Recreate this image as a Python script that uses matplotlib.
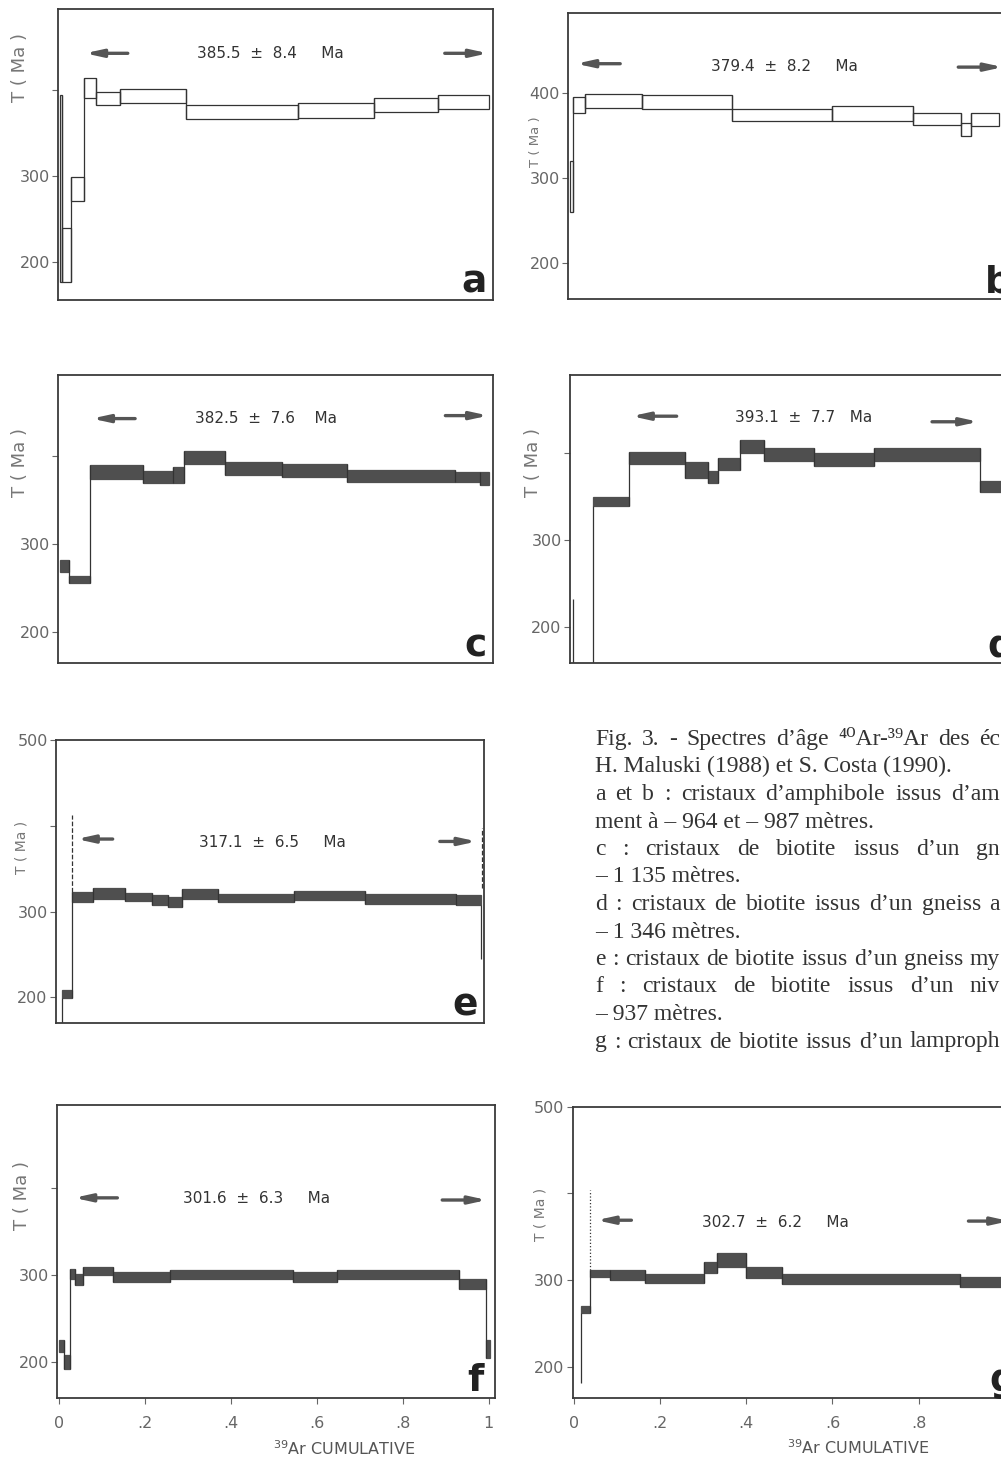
import matplotlib.pyplot as plt
from matplotlib.patches import Rectangle

W, H = 1001, 1457
fig = plt.figure(figsize=(W / 100, H / 100), dpi=100)

LINE = '#333333'
FILL = '#4f4f4f'

# --- data (cumulative 39Ar fraction edges, age ranges in Ma) ---
a_edges = [0, .005, .026, .057, .086, .141, .295, .555, .734, .883, 1.0]
a_lo = [177, 177, 271, 391, 383, 385, 366, 368, 375, 378]
a_hi = [394, 240, 299, 414, 398, 401, 383, 385, 391, 394]
a_age = "385.5  ±  8.4     Ma"

b_edges = [0, .009, .035, .168, .378, .611, .801, .913, .936, 1.0]
b_lo = [260, 376, 382, 381, 367, 367, 362, 349, 361]
b_hi = [320, 395, 398, 397, 381, 384, 376, 364, 376]
b_age = "379.4  ±  8.2     Ma"

c_edges = [0, .021, .071, .195, .265, .289, .386, .518, .669, .922, .980, 1.0]
c_lo = [268, 255, 374, 369, 369, 391, 378, 376, 370, 370, 367]
c_hi = [281, 263, 390, 383, 387, 405, 393, 391, 384, 382, 382]
c_age = "382.5  ±  7.6    Ma"

d_edges = [.051, .134, .265, .317, .342, .393, .449, .564, .705, .951, 1.0]
d_lo = [338.5, 386.5, 371, 364.5, 380, 400, 390.5, 384, 390.5, 355]
d_hi = [349, 401, 389, 379, 394, 414, 405, 399, 405, 367]
d_age = "393.1  ±  7.7   Ma"

e_edges = [.012, .035, .084, .16, .223, .262, .293, .38, .558, .725, .94, .998]
e_lo = [199, 311, 315, 312, 308, 305, 315, 311, 314, 309, 308]
e_hi = [208, 323, 328, 322, 319.5, 317.5, 326, 321, 324.5, 320, 319]
e_age = "317.1  ±  6.5     Ma"

f_edges = [0, .011, .024, .036, .054, .125, .258, .545, .646, .93, .993, 1.003]
f_lo = [211.5, 192, 295, 288.5, 300, 292, 295, 292, 295, 283.5, 204]
f_hi = [225, 208, 306.5, 301, 309.5, 304, 306, 303, 306, 295.5, 225]
f_age = "301.6  ±  6.3     Ma"

g_edges = [.018, .038, .085, .166, .302, .333, .4, .482, .896, 1.0]
g_lo = [261.5, 304, 300.5, 296, 308.5, 315.5, 302, 295.5, 292.5]
g_hi = [270, 312, 311.5, 307.5, 321, 331, 314.5, 307.5, 304]
g_age = "302.7  ±  6.2     Ma"

# extra vertical traces: (x, y0, y1, style)
d_lines = [(0.003, 150, 232, '-'), (0.051, 150, 338.5, '-')]
e_lines = [(0.012, 160, 199, '-'), (0.035, 323, 413, '--'),
           (0.998, 245, 308, '-'), (1.0, 327, 397, '--')]
g_lines = [(0.018, 181, 261.5, '-'), (0.038, 312, 404, ':')]

xtick_vals = [0, .2, .4, .6, .8, 1]
xtick_txt = ['0', '.2', '.4', '.6', '.8', '1']

# caption lines; True = justified line running off the right edge
caption = [
    ("Fig. 3. - Spectres d’âge ⁴⁰Ar-³⁹Ar des éc", True),
    ("H. Maluski (1988) et S. Costa (1990).", False),
    ("a et b : cristaux d’amphibole issus d’am", True),
    ("ment à – 964 et – 987 mètres.", False),
    ("c : cristaux de biotite issus d’un gn", True),
    ("– 1 135 mètres.", False),
    ("d : cristaux de biotite issus d’un gneiss a", True),
    ("– 1 346 mètres.", False),
    ("e : cristaux de biotite issus d’un gneiss my", True),
    ("f : cristaux de biotite issus d’un niv", True),
    ("– 937 mètres.", False),
    ("g : cristaux de biotite issus d’un lamproph", True),
]


def make_ax(left, top, w, h):
    return fig.add_axes([left / W, 1 - (top + h) / H, w / W, h / H])


def spectrum(ax, edges, lo, hi, filled):
    for i in range(len(lo)):
        ax.add_patch(Rectangle((edges[i], lo[i]), edges[i + 1] - edges[i],
                               hi[i] - lo[i], fill=filled,
                               facecolor=FILL if filled else 'none',
                               edgecolor=FILL if filled else LINE, lw=0.9))
    for i in range(1, len(lo)):
        ax.vlines(edges[i], min(lo[i - 1], lo[i]), max(hi[i - 1], hi[i]),
                  color=LINE, lw=0.9)


def decorate(ax, xlim, ylim, ticks, labels, ylab_pos, ylab_size,
             age, age_pos, larrow, rarrow, letter, letter_x):
    ax.set_xlim(*xlim)
    ax.set_ylim(*ylim)
    for s in ax.spines.values():
        s.set_color('#3a3a3a')
        s.set_linewidth(1.3)
    ax.set_yticks(ticks)
    ax.set_yticklabels(labels)
    ax.tick_params(axis='y', direction='out', length=4, width=0.8,
                   colors='#666666', labelsize=11.5, pad=2)
    ax.set_xticks([])
    ax.text(ylab_pos[0], ylab_pos[1], 'T ( Ma )', rotation=90,
            transform=ax.transAxes, ha='center', va='center',
            fontsize=ylab_size, color='#777777')
    ax.text(age_pos[0], age_pos[1], age, ha='center', va='center',
            fontsize=11, color='#333333')
    # arrows given as (tail, head, y)
    for (tail, head, y) in (larrow, rarrow):
        ax.annotate('', xy=(head, y), xytext=(tail, y),
                    arrowprops=dict(arrowstyle='-|>,head_length=1.0,head_width=0.22',
                                    lw=2.4, color='#555555', shrinkA=0, shrinkB=0),
                    annotation_clip=False)
    ax.text(letter_x, 0.025, letter, transform=ax.transAxes, ha='right',
            va='baseline', fontsize=27, fontweight='bold', color='#222222')


# a
ax = make_ax(58.3, 9.3, 434.5, 290.7)
spectrum(ax, a_edges, a_lo, a_hi, False)
decorate(ax, (-0.003, 1.01), (156.2, 493.8), [200, 300, 400], ['200', '300', ''],
         (-0.088, 0.80), 13, a_age, (0.491, 442), (0.159, 0.059, 442.7),
         (0.898, 0.999, 442.7), 'a', 0.985)

# b
ax = make_ax(568.3, 12.7, 435, 286.6)
spectrum(ax, b_edges, b_lo, b_hi, False)
decorate(ax, (-0.003, 1.011), (157.8, 493.8), [200, 300, 400], ['200', '300', '400'],
         (-0.075, 0.55), 9.5, b_age, (0.5, 430.5), (0.118, 0.015, 434),
         (0.906, 1.01, 430), 'b', 1.02)

# c
ax = make_ax(58.3, 375, 434.7, 288.3)
spectrum(ax, c_edges, c_lo, c_hi, True)
decorate(ax, (-0.003, 1.01), (164, 492), [200, 300, 400], ['200', '300', ''],
         (-0.088, 0.695), 13, c_age, (0.481, 443), (0.176, 0.075, 442.4),
         (0.899, 0.999, 445.8), 'c', 0.985)

# d
ax = make_ax(570, 375, 435, 288.3)
spectrum(ax, d_edges, d_lo, d_hi, True)
for x, y0, y1, ls in d_lines:
    ax.vlines(x, y0, y1, color=LINE, lw=0.9, linestyles=ls)
decorate(ax, (-0.0035, 1.01), (158, 489), [200, 300, 400], ['200', '300', ''],
         (-0.085, 0.695), 13, d_age, (0.54, 440.6), (0.245, 0.14, 441.7),
         (0.84, 0.948, 435.3), 'd', 1.02)

# e
ax = make_ax(56, 740, 428, 283)
spectrum(ax, e_edges, e_lo, e_hi, True)
for x, y0, y1, ls in e_lines:
    ax.vlines(x, y0, y1, color=LINE, lw=0.9, linestyles=ls)
decorate(ax, (-0.0024, 1.005), (170, 500), [200, 300, 400, 500],
         ['200', '300', '', '500'], (-0.08, 0.62), 10, e_age, (0.508, 381),
         (0.131, 0.046, 384.5), (0.901, 0.988, 381.7), 'e', 0.985)

# f
ax = make_ax(57.3, 1105, 437.7, 293.3)
spectrum(ax, f_edges, f_lo, f_hi, True)
decorate(ax, (-0.005, 1.015), (158, 496), [200, 300, 400], ['200', '300', ''],
         (-0.08, 0.69), 13, f_age, (0.46, 388), (0.135, 0.034, 389),
         (0.892, 0.996, 386.5), 'f', 0.975)

# g
ax = make_ax(572.7, 1106.7, 435, 291.6)
spectrum(ax, g_edges, g_lo, g_hi, True)
for x, y0, y1, ls in g_lines:
    ax.vlines(x, y0, y1, color=LINE, lw=0.9, linestyles=ls)
decorate(ax, (-0.002, 1.006), (163.5, 500), [200, 300, 400, 500],
         ['200', '300', '', '500'], (-0.075, 0.63), 10, g_age, (0.467, 366),
         (0.134, 0.053, 369), (0.915, 1.01, 368), 'g', 1.02)

for ax in fig.axes[-2:]:
    ax.set_xticks(xtick_vals)
    ax.set_xticklabels(xtick_txt)
    ax.tick_params(axis='x', direction='out', length=4, width=0.8,
                   colors='#666666', labelsize=11.5, pad=9)
    ax.text(0.655, -0.17, r'$^{\mathregular{39}}$Ar CUMULATIVE',
            transform=ax.transAxes, ha='center', va='center',
            fontsize=11.5, color='#555555')

# caption, justified lines spread to the right edge like the printed page
renderer = fig.canvas.get_renderer()
cap_kw = dict(ha='left', va='baseline', fontsize=17, color='#333333',
              family=['Liberation Serif', 'DejaVu Serif'])
left_px, right_px = 595, 1000
for i, (line, justify) in enumerate(caption):
    y = 1 - (745 + i * 27.5) / H
    if not justify:
        fig.text(left_px / W, y, line, **cap_kw)
        continue
    words = line.split(' ')
    arts = [fig.text(0, y, w, **cap_kw) for w in words]
    widths = [t.get_window_extent(renderer).width for t in arts]
    gap = (right_px - left_px - sum(widths)) / (len(words) - 1)
    x = left_px
    for t, w in zip(arts, widths):
        t.set_x(x / W)
        x += w + gap

fig.savefig('out.png', dpi=100)
